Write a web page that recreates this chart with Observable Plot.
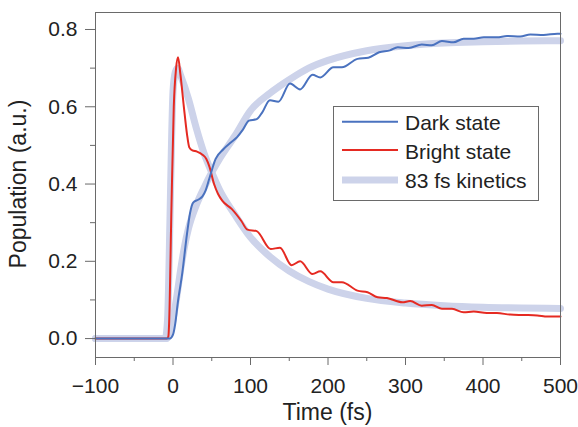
<!DOCTYPE html>
<html>
<head>
<meta charset="utf-8">
<script src="https://cdn.jsdelivr.net/npm/d3@7"></script>
<script src="https://cdn.jsdelivr.net/npm/@observablehq/plot@0.6"></script>
<style>
  html, body { margin: 0; padding: 0; background: #fff; }
  svg { font-family: "Liberation Sans", Arial, sans-serif; }
</style>
</head>
<body>
<div id="chart"></div>
<script>
// ---- data ----
const darkT = [-100, -4, 0, 3, 6, 12, 18, 22, 26, 33, 38, 42, 47, 55, 65, 75, 83, 90, 98, 108, 115, 125, 136, 151, 164, 180, 190, 207, 218, 238, 252, 266, 280, 290, 304, 321, 334, 347, 362, 375, 388, 401, 418, 431, 448, 461, 478, 496, 500];
const darkV = [0, 0, 0.01, 0.04, 0.09, 0.17, 0.27, 0.325, 0.352, 0.36, 0.368, 0.383, 0.415, 0.465, 0.49, 0.508, 0.522, 0.54, 0.564, 0.568, 0.585, 0.617, 0.613, 0.66, 0.645, 0.683, 0.676, 0.702, 0.702, 0.724, 0.727, 0.741, 0.746, 0.754, 0.752, 0.761, 0.759, 0.77, 0.767, 0.776, 0.776, 0.78, 0.78, 0.783, 0.782, 0.787, 0.786, 0.789, 0.789];

const brightT = [-100, -8, -6, -5, -2, 1, 4, 6.5, 9.5, 14, 18, 21, 25, 31, 38, 43, 47, 53, 58, 63.5, 76, 88, 96, 108, 126, 138, 153, 164, 180, 190, 207, 218, 238, 251, 264, 276, 296, 306, 321, 334, 347, 360, 375, 388, 405, 418, 435, 452, 470, 483, 498, 500];
const brightV = [0, 0, 0.005, 0.04, 0.34, 0.6, 0.7, 0.728, 0.685, 0.6, 0.53, 0.495, 0.487, 0.484, 0.476, 0.465, 0.445, 0.4, 0.375, 0.357, 0.335, 0.305, 0.282, 0.278, 0.232, 0.235, 0.19, 0.2, 0.167, 0.174, 0.146, 0.146, 0.124, 0.12, 0.107, 0.105, 0.094, 0.097, 0.085, 0.087, 0.077, 0.077, 0.068, 0.07, 0.066, 0.066, 0.062, 0.061, 0.06, 0.057, 0.057, 0.057];

const kinDarkT = [-100, -8, -5, 0, 5, 10, 15, 20, 30, 40, 50, 60, 80, 100, 125, 150, 175, 200, 250, 300, 350, 400, 450, 500];
const kinDarkV = [0, 0, 0.01, 0.05, 0.11, 0.18, 0.24, 0.285, 0.345, 0.39, 0.43, 0.465, 0.525, 0.59, 0.635, 0.67, 0.70, 0.72, 0.745, 0.758, 0.765, 0.768, 0.77, 0.771];

const kinBrightT = [-100, -10, -7, -4, -2, 0, 3, 6, 10, 20, 30, 40, 50, 60, 80, 100, 125, 150, 175, 200, 250, 300, 350, 400, 450, 500];
const kinBrightV = [0, 0, 0.05, 0.3, 0.5, 0.64, 0.69, 0.70, 0.68, 0.62, 0.545, 0.48, 0.43, 0.385, 0.32, 0.262, 0.212, 0.175, 0.148, 0.128, 0.104, 0.092, 0.085, 0.081, 0.079, 0.078];

const xTicks = [-100, 0, 100, 200, 300, 400, 500];
const xMinorTicks = [-50, 50, 150, 250, 350, 450];
const yTicks = [0, 0.2, 0.4, 0.6, 0.8];
const yMinorTicks = [0.1, 0.3, 0.5, 0.7];

const seriesNames = ["Dark state", "Bright state", "83 fs kinetics"];
const xTitle = "Time (fs)";
const yTitle = "Population (a.u.)";

// ---- build tables ----
const zipT = (T, V) => T.map((t, i) => ({t, v: V[i]}));
const dark = zipT(darkT, darkV);
const bright = zipT(brightT, brightV);
const kinDark = zipT(kinDarkT, kinDarkV);
const kinBright = zipT(kinBrightT, kinBrightV);

const BLUE = "#4a72bf", RED = "#e52a22", LAV = "#cdd3ea", AX = "#6a6a6a", TXT = "#222";

const minus = d => (d < 0 ? "\u2212" + Math.abs(d) : String(d));

const chart = Plot.plot({
  width: 578,
  height: 427,
  marginLeft: 95,
  marginRight: 18,
  marginTop: 12,
  marginBottom: 70,
  x: {domain: [-100, 500], label: null},
  y: {domain: [-0.049, 0.844], label: null},
  style: {fontFamily: "'Liberation Sans', Arial, sans-serif", background: "#fff"},
  marks: [
    Plot.line(kinDark, {x: "t", y: "v", stroke: LAV, strokeWidth: 7, curve: "monotone-x"}),
    Plot.line(kinBright, {x: "t", y: "v", stroke: LAV, strokeWidth: 7, curve: "monotone-x"}),
    Plot.line(bright, {x: "t", y: "v", stroke: RED, strokeWidth: 2, curve: "monotone-x"}),
    Plot.line(dark, {x: "t", y: "v", stroke: BLUE, strokeWidth: 2, curve: "monotone-x"}),
    Plot.frame({stroke: AX}),
    Plot.axisX(xTicks, {tickSize: 8, text: null, stroke: AX, label: null}),
    Plot.axisX(xMinorTicks, {tickSize: 4, text: null, stroke: AX, label: null}),
    Plot.axisX(xTicks, {tickSize: 0, tickPadding: 21, fontSize: 21, fill: TXT, tickFormat: minus, label: null}),
    Plot.axisY(yTicks, {tickSize: 10, text: null, stroke: AX, label: null}),
    Plot.axisY(yMinorTicks, {tickSize: 5, text: null, stroke: AX, label: null}),
    Plot.axisY(yTicks, {tickSize: 0, tickPadding: 18, fontSize: 21, fill: TXT, tickFormat: d3.format(".1f"), label: null})
  ]
});

document.getElementById("chart").appendChild(chart);

// ---- titles and legend ----
const svg = d3.select(chart);
svg.append("text")
  .attr("x", 327.5).attr("y", 420)
  .attr("text-anchor", "middle")
  .attr("font-size", 23).attr("fill", TXT)
  .text(xTitle);
svg.append("text")
  .attr("transform", "translate(26,184) rotate(-90)")
  .attr("text-anchor", "middle")
  .attr("font-size", 23).attr("fill", TXT)
  .text(yTitle);

const lg = svg.append("g");
lg.append("rect")
  .attr("x", 333.5).attr("y", 106.5).attr("width", 205).attr("height", 94)
  .attr("fill", "#fff").attr("stroke", AX).attr("stroke-width", 1);
const legendStyles = [
  {color: BLUE, w: 2, ly: 121.7, ty: 130},
  {color: RED, w: 2, ly: 150, ty: 159},
  {color: LAV, w: 7, ly: 180, ty: 188}
];
seriesNames.forEach((name, i) => {
  const s = legendStyles[i];
  lg.append("line").attr("x1", 342).attr("x2", 398).attr("y1", s.ly).attr("y2", s.ly)
    .attr("stroke", s.color).attr("stroke-width", s.w);
  lg.append("text").attr("x", 405).attr("y", s.ty)
    .attr("text-anchor", "start")
    .attr("font-size", 21).attr("fill", TXT).text(name);
});
</script>
</body>
</html>
